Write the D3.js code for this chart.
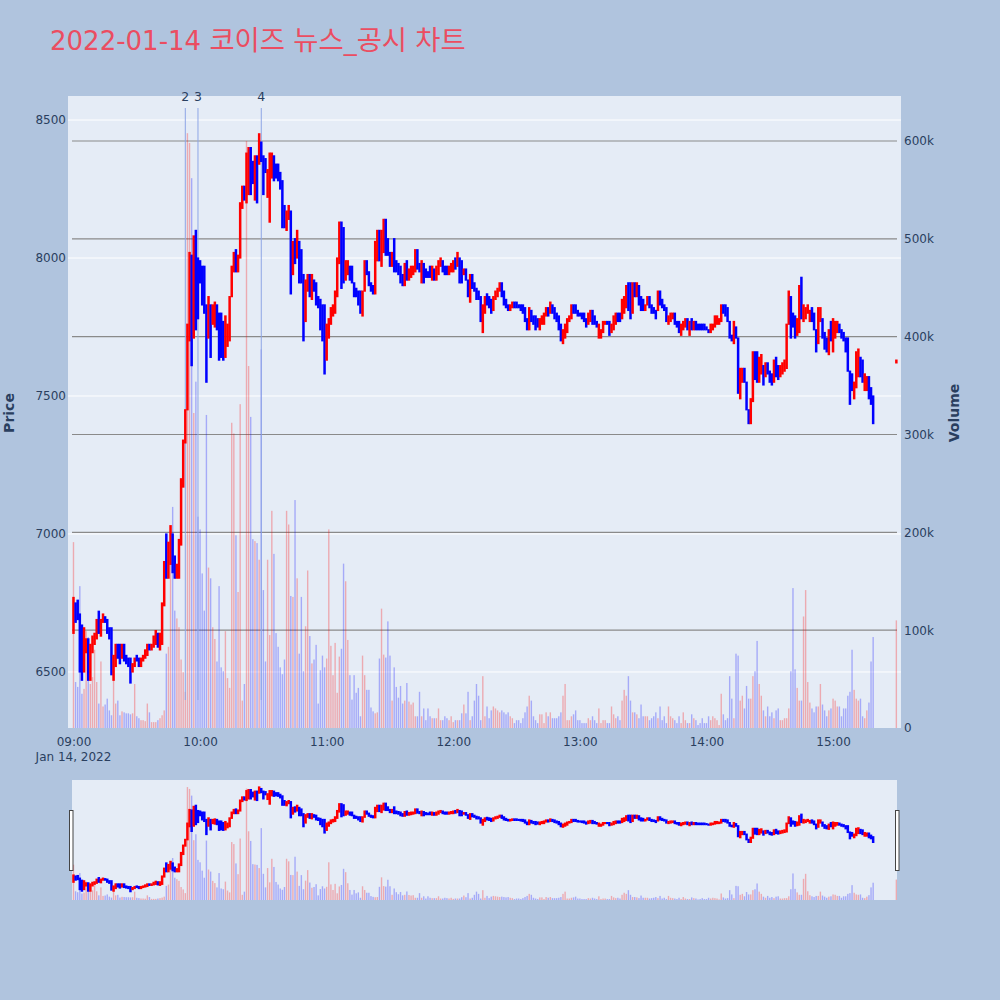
<!DOCTYPE html>
<html><head><meta charset="utf-8">
<script src="https://cdn.jsdelivr.net/npm/d3@7"></script>
<style>body{margin:0;background:#b0c4de;}svg{display:block;font-family:"DejaVu Sans",sans-serif;}</style>
</head><body><svg id="c" width="1000" height="1000"></svg>
<script>
// ---------- data ----------
const tradeDate = "2022-01-14";
const sessionStart = "09:00";
const closingAuction = "15:30";
const titleText = "2022-01-14 코이즈 뉴스_공시 차트";
const newsTimes = ["09:53", "09:59", "10:29"];
const newsLabels = ["2", "3", "4"];
const timeTicks = ["09:00","10:00","11:00","12:00","13:00","14:00","15:00"];
const priceTicks = [6500, 7000, 7500, 8000, 8500];
const volumeTicks = [0, 100, 200, 300, 400, 500, 600]; // thousands

// one candle per minute from 09:00, last entry = 15:30 closing auction
const opens = [
6640,6750,6760,6710,6670,6500,6570,6620,6470,6570,6600,6620,6720,6630,6680,6700,6690,6660,6660,6470,
6520,6600,6600,6550,6600,6560,6550,6550,6500,6520,6560,6550,6520,6540,6550,6560,6600,6580,6590,6600,
6640,6580,6600,6740,7000,6840,6890,7000,6920,6840,6840,6960,7170,7330,7450,7700,8010,7710,8100,8000,
7990,7970,7970,7830,
7710,7830,7760,7750,7830,7800,7800,7770,7640,7680,7700,7860,7950,8030,7950,8000,8180,8260,
8200,8230,8400,8350,8210,8370,8340,8420,8370,8360,8220,8130,8290,8370,8340,8340,8310,8280,8190,8100,
8140,8170,7940,8070,8000,8060,8030,7940,7770,7880,7940,7850,7920,7910,7860,7850,7830,7830,7630,7710,
7760,7790,7800,7860,7980,8130,8110,7920,
7940,7970,7970,7910,7890,7880,7880,7790,7880,7990,7950,7910,7900,7870,7990,8100,7970,8020,8140,8070,
8020,7970,8070,7990,7980,7970,7940,7900,7990,7920,7930,7940,7950,8030,7980,7910,7980,7960,7950,7970,
7920,7960,7920,7940,7970,7990,7970,7970,7940,7950,7950,8000,7970,8000,7990,7940,7960,7920,7840,7940,
7910,7890,7880,7860,
7730,7800,7870,7860,7850,7810,7850,7860,7880,7910,7880,7850,7830,7810,7820,7840,7840,7830,7830,
7830,7820,7780,7740,7810,7790,7790,7780,7740,7760,7760,7790,7820,7800,7830,7820,7800,7790,7760,7690,
7710,7730,7770,7780,7830,7830,7810,7800,7800,7800,7780,7760,7770,7810,7790,7770,7710,7710,7730,7760,
7770,7770,7730,7740,7760,7800,
7800,7780,7800,7820,7910,7910,7800,7910,7860,7900,7860,7850,7810,7830,7860,7830,7820,7810,7810,7880,
7850,7830,7820,7760,7770,7780,7800,7770,7770,7720,7740,7750,7780,7720,7780,7740,7770,7760,7760,7760,
7760,7750,7740,7730,7740,7750,7760,7760,7770,7830,7830,7820,7770,7720,7690,7750,7710,7490,7550,7600,
7550,7450,
7400,7480,7660,7660,7550,7580,7610,7570,7620,7590,7580,7550,7640,7610,7570,7580,7590,7600,7760,7860,
7800,7790,7720,7730,7930,7770,7780,7800,7770,7820,7800,7740,7690,7770,7780,7730,7710,7650,7770,7660,
7710,7730,7760,7740,7730,7710,7710,7590,7580,7490,7530,7570,7640,7630,7520,7520,7570,7530,7500,
7620];
const closes = [
6770,6680,6690,6500,6470,6660,6620,6470,6600,6630,6640,6690,6640,6690,6710,6680,6640,6620,6490,6560,
6600,6550,6530,6600,6540,6530,6520,6460,6530,6550,6540,6520,6550,6560,6580,6600,6580,6600,6630,6650,
6590,6640,6750,6900,6840,6970,7030,6860,6840,6890,6980,7200,7340,7450,7760,8020,7610,8080,7740,7780,
7910,7830,7800,7550,
7860,7640,7830,7840,7740,7630,7640,7630,7790,7760,7860,7970,8020,7950,8010,8200,8260,8210,
8380,8400,8230,8270,8370,8200,8450,8350,8230,8310,8320,8380,8380,8280,8290,8280,8250,8110,8110,8170,
8190,7870,8060,7980,8100,7910,7910,7700,7920,7940,7860,7940,7880,7830,7820,7740,7700,7580,7760,7780,
7820,7830,7880,8000,8130,7890,7910,7990,
7990,7920,7910,7860,7860,7830,7800,7880,7990,7940,7900,7880,7870,8060,8100,7990,8100,8140,8010,8010,
7970,8020,7950,7950,7940,7910,7900,7980,7920,7960,7970,7970,8030,7960,7950,7990,7910,7930,7930,7930,
7970,7920,7970,7990,8000,7950,7940,7940,7970,7980,7990,7960,8020,7910,7910,7960,7920,7860,7940,7890,
7880,7850,7850,7770,
7830,7860,7830,7820,7800,7860,7880,7890,7910,7860,7830,7820,7810,7830,7840,7820,7820,7820,7810,
7800,7770,7740,7820,7770,7760,7740,7750,7780,7790,7800,7820,7790,7840,7800,7780,7770,7740,7700,7740,
7760,7780,7790,7830,7800,7800,7790,7790,7780,7770,7750,7800,7810,7760,7760,7750,7760,7740,7770,7770,
7760,7720,7760,7790,7800,7770,
7770,7850,7860,7900,7810,7780,7910,7860,7910,7830,7810,7810,7830,7860,7820,7800,7800,7780,7880,7830,
7820,7810,7770,7790,7800,7800,7760,7750,7730,7760,7770,7780,7740,7770,7740,7770,7740,7740,7740,7740,
7740,7740,7730,7760,7760,7790,7790,7780,7830,7800,7790,7770,7710,7700,7770,7710,7510,7600,7600,7550,
7450,7400,
7490,7660,7560,7550,7640,7650,7540,7620,7580,7550,7540,7630,7570,7560,7610,7620,7630,7760,7880,7710,
7750,7710,7780,7900,7780,7830,7820,7830,7810,7770,7740,7660,7820,7820,7710,7670,7660,7740,7700,7780,
7770,7770,7730,7710,7700,7660,7590,7470,7520,7550,7660,7670,7570,7550,7580,7570,7490,7470,7400,
7630];
const volumesK = [
190,47,42,145,35,40,99,93,45,52,80,47,25,68,22,24,30,18,13,55,
25,28,13,17,16,15,15,14,15,45,12,10,8,8,7,25,16,6,6,6,
8,10,13,18,76,83,170,226,120,112,103,70,57,37,608,598,562,322,354,216,
203,158,120,320,
164,153,103,91,68,145,62,58,99,51,41,312,301,197,139,331,28,45,600,370,318,193,
191,189,172,387,141,68,172,95,222,178,97,83,62,55,70,222,208,135,134,233,
153,76,134,58,104,161,94,66,70,85,25,59,74,62,71,203,84,54,87,36,
73,81,168,150,
90,54,29,54,36,41,12,74,54,39,39,21,17,15,16,71,122,75,72,109,
74,28,62,42,31,43,25,28,46,27,24,26,12,12,37,12,20,8,20,12,
10,10,10,20,8,8,12,10,8,12,6,8,8,8,15,24,15,37,8,12,
28,45,33,8,
53,12,22,10,18,22,20,18,16,18,16,14,16,12,10,5,8,8,5,
10,16,22,33,28,12,8,5,14,14,5,16,12,16,10,10,10,12,16,33,
45,8,8,12,14,18,8,8,5,5,5,10,8,12,8,5,20,5,8,8,
5,5,22,14,10,12,
8,28,39,33,53,28,16,16,14,10,24,12,12,12,8,10,12,16,10,22,
8,12,5,22,12,10,8,5,12,5,16,8,5,5,14,10,8,3,5,10,
5,5,12,8,12,10,8,3,35,14,8,10,53,30,10,76,74,28,33,20,
43,30,
30,53,58,89,45,33,18,12,22,12,16,10,18,20,8,8,10,10,20,58,
143,60,41,28,28,114,141,47,26,20,16,22,22,45,24,18,12,18,20,30,
28,22,22,12,20,20,33,37,80,39,30,28,30,12,10,18,26,68,93,
110];

// ---------- build ----------
const FONT = "'DejaVu Sans','Noto Sans CJK KR',sans-serif";
const parseT = d3.timeParse("%Y-%m-%d %H:%M");
const t0 = parseT(tradeDate + " " + sessionStart);
const tClose = parseT(tradeDate + " " + closingAuction);
const data = opens.map((o, i) => ({
  t: i < opens.length - 1 ? d3.timeMinute.offset(t0, i) : tClose,
  o, c: closes[i], v: volumesK[i]
}));

const svg = d3.select("#c");
const W = 1000, H = 1000;
svg.append("rect").attr("width", W).attr("height", H).attr("fill", "#b0c4de");

const P = {l: 68, r: 901, t: 96, b: 728};
const S = {l: 72, r: 897, t: 780, b: 900};
const x = d3.scaleTime()
  .domain([d3.timeSecond.offset(t0, -156), d3.timeSecond.offset(t0, 23532)])
  .range([P.l, P.r]);
const yP = d3.scaleLinear().domain([6297, 8587]).range([P.b, P.t]);
const yV = d3.scaleLinear().domain([0, 646]).range([P.b, P.t]);
const yPs = d3.scaleLinear().domain([6297, 8587]).range([S.b, S.t]);
const yVs = d3.scaleLinear().domain([0, 646]).range([S.b, S.t]);

const RED = "#ff0000", BLUE = "#0000ff";
const col = d => d.c > d.o ? RED : BLUE;

// title: Hangul runs slightly larger to match the reference glyph widths
const title = svg.append("text").attr("x", 50).attr("y", 50).attr("fill", "#eb4d61")
  .style("font-family", FONT);
(titleText.match(/[\uac00-\ud7a3]+|[^\uac00-\ud7a3]+/g) || []).forEach(run => {
  const kor = /[\uac00-\ud7a3]/.test(run);
  title.append("tspan").attr("font-size", kor ? 27.4 : 26).text(run);
});

// defs
const defs = svg.append("defs");
defs.append("clipPath").attr("id", "mainClip").append("rect")
  .attr("x", P.l).attr("y", P.t).attr("width", P.r - P.l).attr("height", P.b - P.t);
defs.append("clipPath").attr("id", "sliderClip").append("rect")
  .attr("x", S.l).attr("y", S.t).attr("width", S.r - S.l).attr("height", S.b - S.t);

// main plot background
svg.append("rect").attr("x", P.l).attr("y", P.t).attr("width", P.r - P.l).attr("height", P.b - P.t)
  .attr("fill", "#e5ecf6");

// price grid (white)
svg.append("g").selectAll("line").data(priceTicks).join("line")
  .attr("x1", P.l).attr("x2", P.r).attr("y1", d => yP(d)).attr("y2", d => yP(d))
  .attr("stroke", "#ffffff").attr("stroke-width", 1);
// volume grid (gray)
svg.append("g").selectAll("line").data(volumeTicks.filter(d => d > 0)).join("line")
  .attr("x1", P.l + 4).attr("x2", P.r - 4).attr("y1", d => yV(d)).attr("y2", d => yV(d))
  .attr("stroke", "#8a8a8a").attr("stroke-width", 1.2);

const main = svg.append("g").attr("clip-path", "url(#mainClip)");
// volume bars
main.append("g").selectAll("rect").data(data).join("rect")
  .attr("x", d => x(d.t) - 0.7).attr("width", 1.4)
  .attr("y", d => yV(d.v)).attr("height", d => P.b - yV(d.v))
  .attr("fill", col).attr("fill-opacity", 0.28);
// news lines
main.append("g").selectAll("line").data(newsTimes).join("line")
  .attr("x1", d => x(parseT(tradeDate + " " + d))).attr("x2", d => x(parseT(tradeDate + " " + d)))
  .attr("y1", 108).attr("y2", 700).attr("stroke", "#8ea6e6").attr("stroke-width", 1);
// candles
main.append("g").selectAll("rect").data(data).join("rect")
  .attr("x", d => x(d.t) - 1.25).attr("width", 2.5)
  .attr("y", d => yP(Math.max(d.o, d.c)) - 0.6)
  .attr("height", d => Math.abs(yP(d.o) - yP(d.c)) + 1.2)
  .attr("fill", col);

// news labels
svg.append("g").selectAll("text").data(newsTimes).join("text")
  .attr("x", d => x(parseT(tradeDate + " " + d))).attr("y", 101)
  .attr("text-anchor", "middle").attr("font-size", 12.5).attr("fill", "#2a3f5f")
  .style("font-family", FONT).text((d, i) => newsLabels[i]);

// axes
const fmtT = d3.timeFormat("%H:%M");
const xAxis = d3.axisBottom(x).tickValues(timeTicks.map(s => parseT(tradeDate + " " + s)))
  .tickFormat(fmtT).tickSize(0).tickPadding(9);
const gx = svg.append("g").attr("transform", `translate(0,${P.b})`).call(xAxis);
gx.select(".domain").remove();
gx.selectAll("text").attr("font-size", 12).attr("fill", "#2a3f5f").style("font-family", FONT);
svg.append("text").attr("x", x(t0)).attr("y", 761).attr("text-anchor", "middle")
  .attr("font-size", 12).attr("fill", "#2a3f5f").style("font-family", FONT)
  .text(d3.timeFormat("%b %d, %Y")(t0));

const yAxis = d3.axisLeft(yP).tickValues(priceTicks).tickFormat(d3.format("d")).tickSize(0).tickPadding(2);
const gy = svg.append("g").attr("transform", `translate(${P.l},0)`).call(yAxis);
gy.select(".domain").remove();
gy.selectAll("text").attr("font-size", 12).attr("fill", "#2a3f5f").style("font-family", FONT);

const y2Axis = d3.axisRight(yV).tickValues(volumeTicks).tickFormat(d => d === 0 ? "0" : d + "k").tickSize(0).tickPadding(3);
const gy2 = svg.append("g").attr("transform", `translate(${P.r},0)`).call(y2Axis);
gy2.select(".domain").remove();
gy2.selectAll("text").attr("font-size", 12).attr("fill", "#2a3f5f").style("font-family", FONT);

svg.append("text").attr("transform", "translate(14,413) rotate(-90)").attr("text-anchor", "middle")
  .attr("font-size", 14).attr("font-weight", "bold").attr("fill", "#2a3f5f").style("font-family", FONT).text("Price");
svg.append("text").attr("transform", "translate(959,413) rotate(-90)").attr("text-anchor", "middle")
  .attr("font-size", 14).attr("font-weight", "bold").attr("fill", "#2a3f5f").style("font-family", FONT).text("Volume");

// range slider
svg.append("rect").attr("x", S.l).attr("y", S.t).attr("width", S.r - S.l).attr("height", S.b - S.t)
  .attr("fill", "#e5ecf6");
const sl = svg.append("g").attr("clip-path", "url(#sliderClip)");
sl.append("g").selectAll("rect").data(data).join("rect")
  .attr("x", d => x(d.t) - 0.7).attr("width", 1.4)
  .attr("y", d => yVs(d.v)).attr("height", d => S.b - yVs(d.v))
  .attr("fill", col).attr("fill-opacity", 0.28);
sl.append("g").selectAll("rect").data(data).join("rect")
  .attr("x", d => x(d.t) - 1.25).attr("width", 2.5)
  .attr("y", d => yPs(Math.max(d.o, d.c)) - 0.8)
  .attr("height", d => Math.abs(yPs(d.o) - yPs(d.c)) + 1.6)
  .attr("fill", col);
[[69, 810], [895, 810]].forEach(([hx, hy]) => {
  svg.append("rect").attr("x", hx + 0.5).attr("y", hy + 0.5).attr("width", 3.5).attr("height", 60)
    .attr("fill", "#ffffff").attr("stroke", "#444").attr("stroke-width", 1);
});
</script></body></html>
